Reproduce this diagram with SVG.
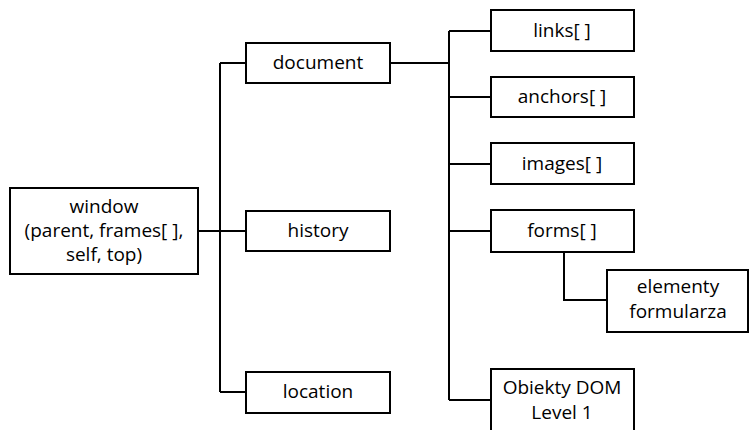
<svg xmlns="http://www.w3.org/2000/svg" width="750" height="430" viewBox="0 0 750 430">
<style>
.box{fill:#fff;stroke:#000;stroke-width:2}
.ln{fill:none;stroke:#000;stroke-width:2}
text{font-family:"Open Sans","Liberation Sans",sans-serif;font-size:19px;fill:#000;text-anchor:middle}
</style>
<rect width="750" height="430" fill="#fff"/>
<g id="connectors">
<path class="ln" d="M198 231H246M220 63V392M220 63H246M220 392H246"/>
<path class="ln" d="M390 63H449M449 31V400M449 31H491M449 97H491M449 164H491M449 231H491M449 400H491"/>
<path class="ln" d="M564 252V300H607"/>
</g>
<g id="window"><rect class="box" x="10" y="188" width="188" height="86"/>
<text x="104" y="213">window</text><text x="104" y="237">(parent, frames[ ],</text><text x="104" y="261">self, top)</text></g>
<g id="document"><rect class="box" x="246" y="43" width="144" height="40"/><text x="318" y="69">document</text></g>
<g id="history"><rect class="box" x="246" y="211" width="144" height="40"/><text x="318" y="237">history</text></g>
<g id="location"><rect class="box" x="246" y="372" width="144" height="41"/><text x="318" y="398">location</text></g>
<g id="links"><rect class="box" x="491" y="10" width="143" height="41"/><text x="562" y="37">links[ ]</text></g>
<g id="anchors"><rect class="box" x="491" y="77" width="143" height="40"/><text x="562" y="103">anchors[ ]</text></g>
<g id="images"><rect class="box" x="491" y="143" width="143" height="41"/><text x="562" y="170">images[ ]</text></g>
<g id="forms"><rect class="box" x="491" y="210" width="143" height="42"/><text x="562" y="237">forms[ ]</text></g>
<g id="elementy"><rect class="box" x="607" y="270" width="141" height="62"/><text x="678" y="293">elementy</text><text x="678" y="318">formularza</text></g>
<g id="obiekty"><rect class="box" x="491" y="369" width="143" height="70"/><text x="562" y="394">Obiekty DOM</text><text x="562" y="419">Level 1</text></g>
</svg>
